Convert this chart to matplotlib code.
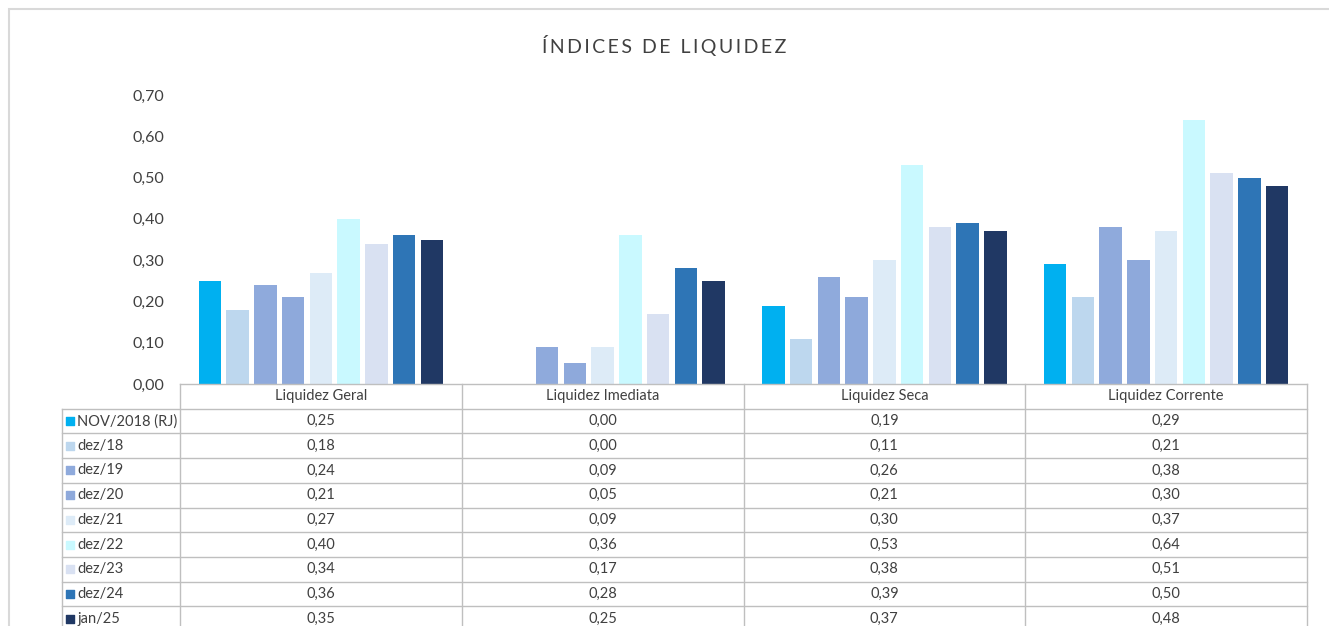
import matplotlib.pyplot as plt
from matplotlib.patches import Rectangle

plt.rcParams['font.family'] = ['Lato', 'DejaVu Sans']

# dados do grafico
categories = ['Liquidez Geral', 'Liquidez Imediata', 'Liquidez Seca', 'Liquidez Corrente']
periods = ['NOV/2018 (RJ)', 'dez/18', 'dez/19', 'dez/20', 'dez/21',
           'dez/22', 'dez/23', 'dez/24', 'jan/25']
colors = ['#00B0F0', '#BDD7EE', '#8FAADC', '#8EA9DB', '#DDEBF7',
          '#C9F9FF', '#D9E1F2', '#2E75B6', '#203864']

nov18 = [0.25, 0.00, 0.19, 0.29]
dez18 = [0.18, 0.00, 0.11, 0.21]
dez19 = [0.24, 0.09, 0.26, 0.38]
dez20 = [0.21, 0.05, 0.21, 0.30]
dez21 = [0.27, 0.09, 0.30, 0.37]
dez22 = [0.40, 0.36, 0.53, 0.64]
dez23 = [0.34, 0.17, 0.38, 0.51]
dez24 = [0.36, 0.28, 0.39, 0.50]
jan25 = [0.35, 0.25, 0.37, 0.48]
series = [nov18, dez18, dez19, dez20, dez21, dez22, dez23, dez24, jan25]

yticks = [0.0, 0.1, 0.2, 0.3, 0.4, 0.5, 0.6, 0.7]

W, H = 1329, 626
txt = '#404040'
grid = '#BFBFBF'

fig = plt.figure(figsize=(W / 100, H / 100), dpi=100)

# moldura externa
fig.patches.append(Rectangle((9 / W, -0.1), 1.2, 1 - 9 / H + 0.1, transform=fig.transFigure,
                             fill=False, edgecolor='#D9D9D9', linewidth=1.5))

# grafico de barras
ax = fig.add_axes([180 / W, 242 / H, 1127 / W, 289 / H])
step = 0.0985
width = 0.08
for j, (vals, c) in enumerate(zip(series, colors)):
    xs = [i + (j - 4) * step for i in range(len(categories))]
    ax.bar(xs, vals, width=width, color=c, zorder=2)
ax.set_xlim(-0.5, len(categories) - 0.5)
ax.set_ylim(0, 0.70)
ax.set_yticks(yticks)
ax.set_yticklabels([f'{v:.2f}'.replace('.', ',') for v in yticks], fontsize=11.5, color=txt)
ax.set_xticks([])
ax.tick_params(axis='y', length=0, pad=11)
for s in ax.spines.values():
    s.set_visible(False)

fig.text(0.5, 1 - 45 / H, '\u2009'.join('ÍNDICES DE LIQUIDEZ'), ha='center', va='center',
         fontsize=14, color=txt)

# tabela de dados
lab_w = 118 / 281.75
nrows = len(periods) + 1
tax = fig.add_axes([62 / W, (626 - 631) / H, 1245 / W, 247 / H])
tax.set_xlim(-lab_w, len(categories))
tax.set_ylim(nrows, 0)
tax.axis('off')

tax.plot([0, len(categories)], [0, 0], color=grid, lw=1, clip_on=False)
for r in range(1, nrows + 1):
    tax.plot([-lab_w, len(categories)], [r, r], color=grid, lw=1, clip_on=False)
for cidx in range(len(categories) + 1):
    tax.plot([cidx, cidx], [0, nrows], color=grid, lw=1, clip_on=False)
tax.plot([-lab_w, -lab_w], [1, nrows], color=grid, lw=1, clip_on=False)

for i, cat in enumerate(categories):
    tax.text(i + 0.5, 0.5, cat, ha='center', va='center', fontsize=10.5, color=txt)

for r, (p, c, vals) in enumerate(zip(periods, colors, series), start=1):
    tax.scatter([-lab_w + 0.03], [r + 0.5], marker='s', s=30, color=c, clip_on=False)
    tax.text(-lab_w + 0.055, r + 0.5, p, ha='left', va='center', fontsize=10.5, color=txt)
    for i, v in enumerate(vals):
        tax.text(i + 0.5, r + 0.5, f'{v:.2f}'.replace('.', ','), ha='center', va='center',
                 fontsize=10.5, color=txt)

fig.savefig('out.png', dpi=100)
